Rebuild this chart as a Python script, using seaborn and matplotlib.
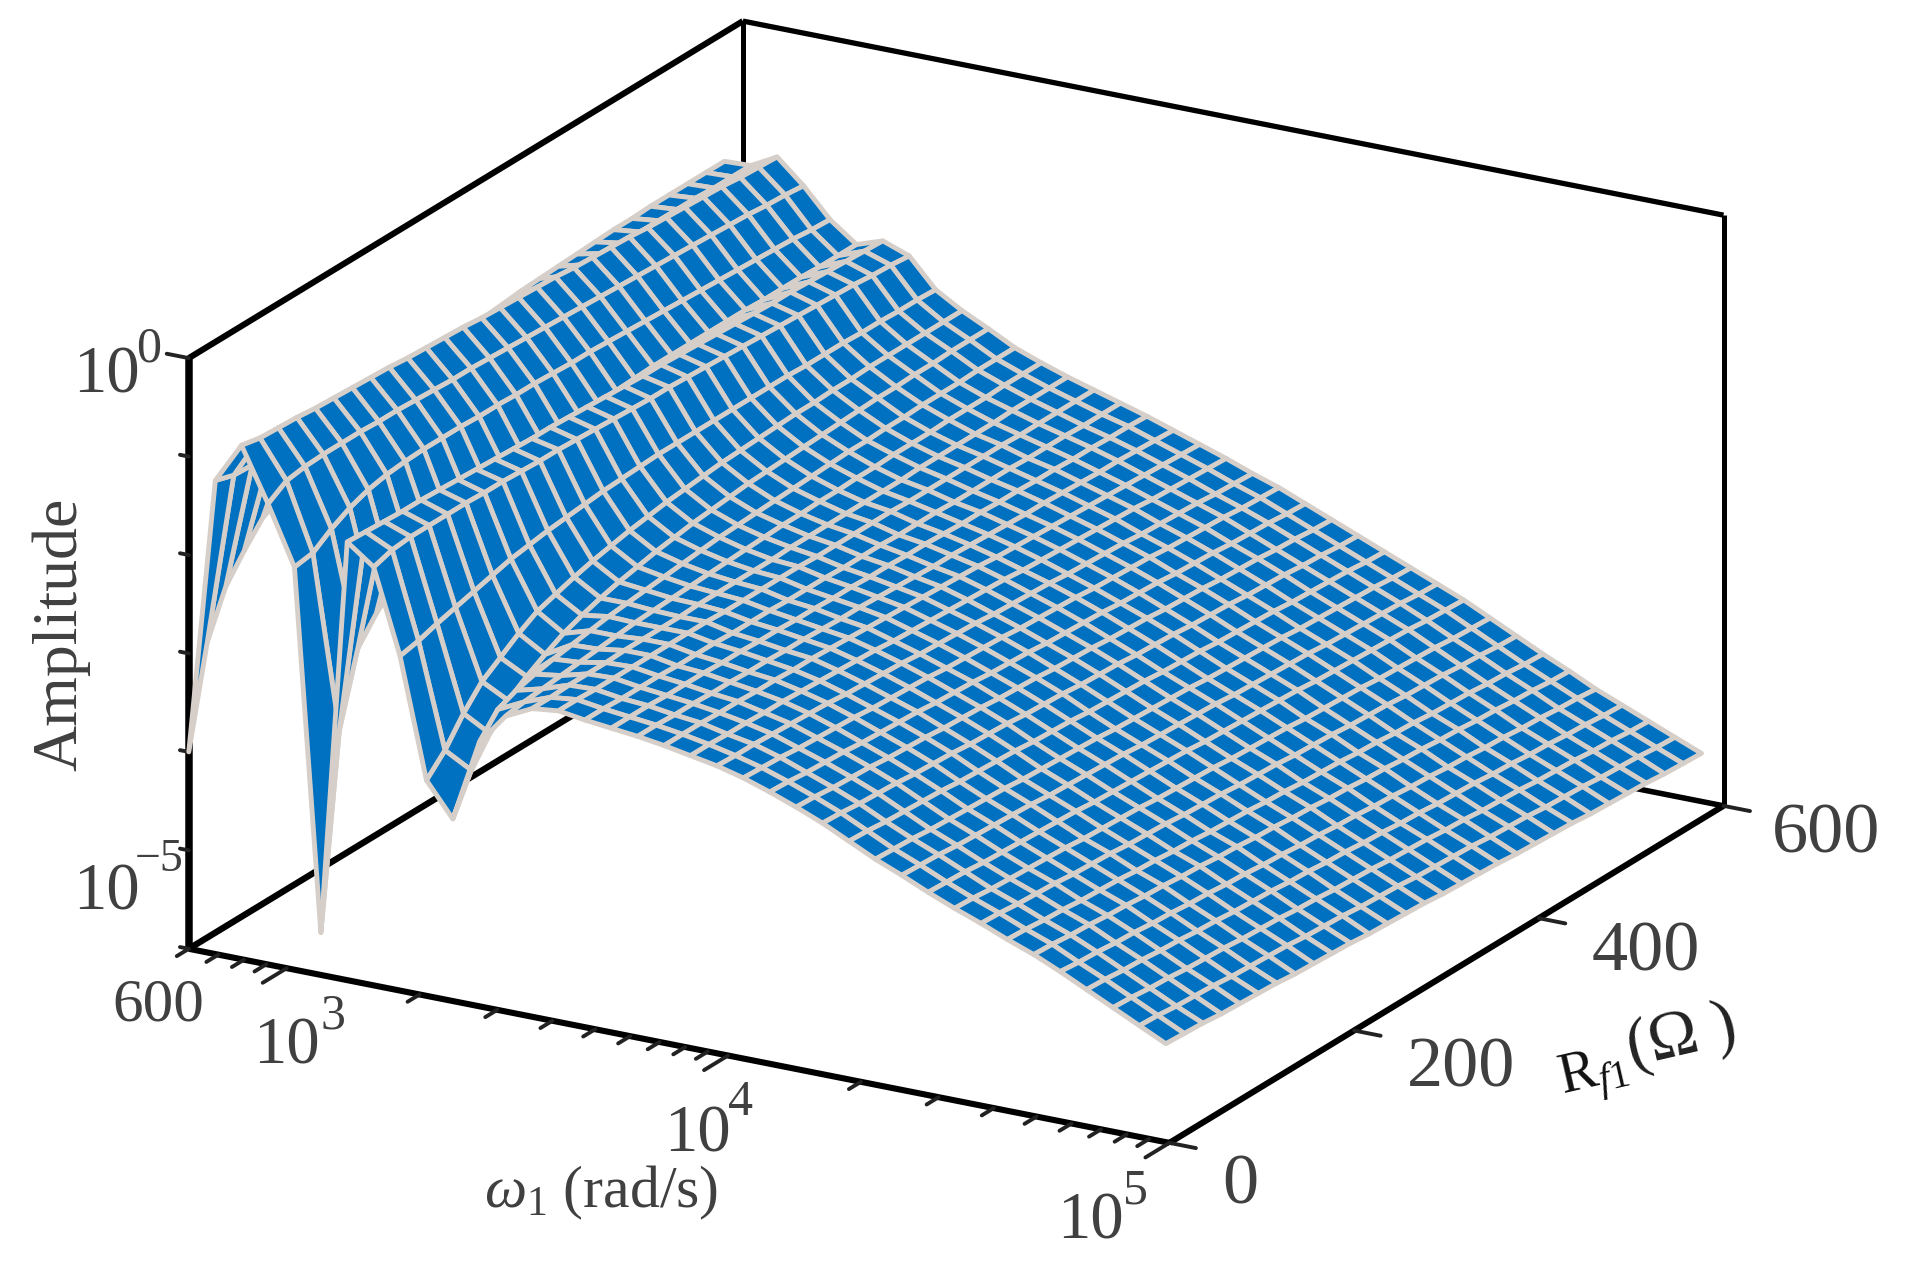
import numpy as np
import matplotlib
matplotlib.use("Agg")
import matplotlib.pyplot as plt
import seaborn as sns
from mpl_toolkits.mplot3d import proj3d

# ---------- data ----------
omega_rad_s = [600, 689, 790, 907, 1041, 1195, 1371, 1574, 1806, 2073, 2379, 2731, 3134, 3597, 4128, 4738,
               5438, 6241, 7163, 8221, 9435, 10829, 12428, 14264, 16371, 18789, 21564, 24749, 28405, 32600,
               37415, 42941, 49284, 56563, 64918, 74506, 85512, 98142]
rf1_ohm = [0, 20, 40, 60, 80, 100, 120, 140, 160, 180, 200, 220, 240, 260, 280, 300, 320, 340, 360, 380,
           400, 420, 440, 460, 480, 500, 520, 540, 560, 580]
# decades above 1e-6: log10(Amplitude) + 6; one row per omega, one column per Rf1
amplitude_decades = [
 [2.00,3.00,3.45,3.70,3.92,4.02,4.12,4.20,4.27,4.33,4.38,4.42,4.46,4.50,4.53,4.56,4.59,4.61,4.63,4.64,4.65,4.66,4.67,4.68,4.68,4.69,4.69,4.69,4.69,4.69],
 [4.81,4.75,4.74,4.74,4.74,4.74,4.74,4.74,4.74,4.74,4.74,4.73,4.73,4.73,4.73,4.73,4.73,4.72,4.72,4.72,4.72,4.72,4.71,4.71,4.71,4.71,4.71,4.70,4.70,4.70],
 [5.22,5.18,5.17,5.16,5.14,5.13,5.12,5.11,5.10,5.08,5.07,5.06,5.05,5.03,5.02,5.01,5.00,4.99,4.97,4.96,4.95,4.94,4.92,4.91,4.90,4.89,4.88,4.86,4.85,4.84],
 [4.68,4.80,4.83,4.84,4.84,4.84,4.83,4.83,4.82,4.81,4.80,4.80,4.79,4.78,4.77,4.76,4.75,4.74,4.73,4.72,4.71,4.70,4.69,4.68,4.67,4.66,4.65,4.63,4.62,4.60],
 [4.09,4.12,4.25,4.35,4.42,4.46,4.48,4.49,4.49,4.49,4.48,4.48,4.47,4.47,4.46,4.45,4.45,4.44,4.43,4.42,4.41,4.40,4.39,4.38,4.37,4.36,4.35,4.34,4.32,4.31],
 [0.43,2.37,3.09,3.33,3.52,3.66,3.76,3.84,3.90,3.95,3.99,4.02,4.05,4.07,4.09,4.10,4.11,4.12,4.13,4.13,4.13,4.13,4.13,4.13,4.12,4.12,4.12,4.11,4.11,4.11],
 [4.45,4.44,4.43,4.42,4.42,4.41,4.40,4.39,4.38,4.37,4.36,4.36,4.35,4.34,4.33,4.32,4.31,4.31,4.30,4.29,4.28,4.27,4.26,4.25,4.25,4.24,4.23,4.22,4.21,4.20],
 [4.25,4.31,4.33,4.33,4.33,4.33,4.32,4.32,4.31,4.30,4.30,4.29,4.28,4.27,4.26,4.25,4.25,4.24,4.23,4.22,4.21,4.20,4.19,4.18,4.17,4.16,4.15,4.13,4.12,4.10],
 [3.40,3.44,3.50,3.55,3.60,3.65,3.70,3.73,3.76,3.78,3.80,3.82,3.83,3.84,3.85,3.85,3.85,3.85,3.85,3.85,3.85,3.85,3.84,3.84,3.84,3.83,3.83,3.82,3.82,3.81],
 [2.19,2.38,2.64,2.85,2.98,3.11,3.22,3.28,3.34,3.39,3.43,3.47,3.50,3.53,3.55,3.57,3.59,3.60,3.61,3.62,3.63,3.63,3.64,3.64,3.65,3.65,3.65,3.65,3.65,3.65],
 [1.85,2.23,2.49,2.71,2.84,2.95,3.05,3.12,3.18,3.23,3.27,3.31,3.34,3.37,3.39,3.41,3.43,3.44,3.45,3.46,3.47,3.48,3.49,3.50,3.50,3.51,3.51,3.52,3.52,3.52],
 [2.68,2.90,2.98,3.03,3.07,3.10,3.13,3.16,3.18,3.20,3.22,3.24,3.26,3.28,3.29,3.30,3.31,3.32,3.33,3.34,3.35,3.35,3.36,3.36,3.37,3.37,3.37,3.38,3.38,3.38],
 [3.00,3.03,3.05,3.07,3.09,3.11,3.13,3.15,3.16,3.17,3.18,3.19,3.20,3.21,3.22,3.23,3.23,3.24,3.24,3.25,3.25,3.26,3.26,3.26,3.27,3.27,3.27,3.28,3.28,3.28],
 [3.13,3.13,3.14,3.14,3.14,3.15,3.15,3.15,3.15,3.16,3.16,3.16,3.16,3.16,3.17,3.17,3.17,3.17,3.17,3.17,3.17,3.18,3.18,3.18,3.18,3.18,3.19,3.19,3.19,3.19],
 [3.16,3.16,3.15,3.15,3.15,3.15,3.15,3.15,3.15,3.14,3.14,3.14,3.14,3.14,3.13,3.13,3.13,3.13,3.13,3.12,3.12,3.12,3.12,3.12,3.12,3.11,3.11,3.11,3.11,3.11],
 [3.12,3.12,3.11,3.11,3.11,3.10,3.10,3.10,3.09,3.09,3.09,3.08,3.08,3.08,3.07,3.07,3.07,3.06,3.06,3.06,3.05,3.05,3.05,3.05,3.04,3.04,3.04,3.03,3.03,3.03],
 [3.09,3.09,3.09,3.08,3.08,3.08,3.07,3.07,3.06,3.06,3.05,3.05,3.04,3.04,3.03,3.03,3.02,3.02,3.01,3.00,3.00,2.99,2.99,2.98,2.98,2.97,2.97,2.96,2.96,2.95],
 [3.06,3.06,3.05,3.05,3.04,3.04,3.03,3.03,3.02,3.02,3.01,3.00,3.00,2.99,2.98,2.97,2.96,2.96,2.95,2.94,2.93,2.92,2.92,2.91,2.90,2.89,2.89,2.88,2.87,2.86],
 [3.02,3.02,3.02,3.01,3.01,3.00,3.00,2.99,2.99,2.98,2.97,2.96,2.95,2.94,2.93,2.92,2.91,2.90,2.88,2.87,2.86,2.85,2.84,2.83,2.82,2.81,2.80,2.79,2.78,2.77],
 [2.97,2.97,2.96,2.96,2.95,2.95,2.94,2.93,2.92,2.91,2.90,2.88,2.87,2.86,2.85,2.84,2.83,2.82,2.80,2.79,2.78,2.77,2.76,2.75,2.74,2.72,2.71,2.70,2.69,2.68],
 [2.92,2.91,2.91,2.90,2.89,2.88,2.87,2.85,2.84,2.83,2.82,2.80,2.79,2.78,2.77,2.75,2.74,2.73,2.72,2.70,2.69,2.68,2.67,2.65,2.64,2.63,2.62,2.60,2.59,2.58],
 [2.85,2.84,2.83,2.81,2.80,2.79,2.78,2.76,2.75,2.74,2.73,2.71,2.70,2.69,2.68,2.66,2.65,2.64,2.63,2.61,2.60,2.59,2.58,2.56,2.55,2.54,2.53,2.51,2.50,2.49],
 [2.76,2.75,2.73,2.72,2.71,2.69,2.68,2.67,2.66,2.64,2.63,2.62,2.60,2.59,2.58,2.56,2.55,2.54,2.53,2.51,2.50,2.49,2.47,2.46,2.45,2.43,2.42,2.41,2.39,2.38],
 [2.66,2.65,2.63,2.62,2.61,2.59,2.58,2.57,2.55,2.54,2.53,2.51,2.50,2.49,2.47,2.46,2.45,2.43,2.42,2.41,2.39,2.38,2.37,2.35,2.34,2.33,2.31,2.30,2.28,2.27],
 [2.55,2.54,2.52,2.51,2.50,2.48,2.47,2.46,2.44,2.43,2.42,2.40,2.39,2.38,2.36,2.35,2.34,2.32,2.31,2.30,2.28,2.27,2.26,2.24,2.23,2.22,2.20,2.19,2.17,2.16],
 [2.42,2.41,2.39,2.38,2.37,2.36,2.34,2.33,2.32,2.31,2.29,2.28,2.27,2.25,2.24,2.23,2.22,2.20,2.19,2.18,2.16,2.15,2.14,2.13,2.11,2.10,2.09,2.08,2.06,2.05],
 [2.29,2.28,2.27,2.25,2.24,2.23,2.22,2.21,2.19,2.18,2.17,2.16,2.15,2.13,2.12,2.11,2.10,2.09,2.07,2.06,2.05,2.04,2.03,2.01,2.00,1.99,1.98,1.97,1.95,1.94],
 [2.18,2.17,2.16,2.14,2.13,2.12,2.11,2.10,2.08,2.07,2.06,2.05,2.04,2.02,2.01,2.00,1.99,1.98,1.96,1.95,1.94,1.93,1.92,1.90,1.89,1.88,1.87,1.86,1.84,1.83],
 [2.06,2.05,2.04,2.02,2.01,2.00,1.99,1.98,1.97,1.95,1.94,1.93,1.92,1.91,1.90,1.88,1.87,1.86,1.85,1.84,1.83,1.81,1.80,1.79,1.78,1.77,1.76,1.74,1.73,1.72],
 [1.95,1.94,1.92,1.91,1.90,1.89,1.88,1.86,1.85,1.84,1.83,1.81,1.80,1.79,1.78,1.76,1.75,1.74,1.73,1.71,1.70,1.69,1.68,1.66,1.65,1.64,1.63,1.61,1.60,1.59],
 [1.85,1.84,1.82,1.81,1.80,1.78,1.77,1.76,1.74,1.73,1.72,1.70,1.69,1.68,1.66,1.65,1.64,1.62,1.61,1.60,1.58,1.57,1.56,1.54,1.53,1.52,1.50,1.49,1.47,1.46],
 [1.74,1.73,1.71,1.70,1.68,1.67,1.66,1.64,1.63,1.61,1.60,1.58,1.57,1.56,1.54,1.53,1.51,1.50,1.49,1.47,1.46,1.44,1.43,1.41,1.40,1.39,1.37,1.36,1.34,1.33],
 [1.64,1.63,1.61,1.60,1.58,1.57,1.55,1.54,1.52,1.51,1.49,1.48,1.46,1.45,1.43,1.42,1.40,1.39,1.37,1.36,1.34,1.33,1.31,1.30,1.28,1.27,1.25,1.24,1.22,1.21],
 [1.52,1.50,1.49,1.47,1.46,1.44,1.43,1.41,1.40,1.38,1.37,1.35,1.34,1.32,1.31,1.29,1.28,1.26,1.25,1.23,1.22,1.20,1.19,1.17,1.16,1.14,1.13,1.11,1.10,1.08],
 [1.39,1.38,1.36,1.35,1.33,1.32,1.30,1.29,1.27,1.26,1.25,1.23,1.22,1.20,1.19,1.17,1.16,1.14,1.13,1.11,1.10,1.09,1.07,1.06,1.04,1.03,1.01,1.00,0.98,0.97],
 [1.26,1.25,1.23,1.22,1.20,1.19,1.18,1.16,1.15,1.14,1.12,1.11,1.09,1.08,1.07,1.05,1.04,1.03,1.01,1.00,0.98,0.97,0.96,0.94,0.93,0.92,0.90,0.89,0.87,0.86],
 [1.13,1.12,1.10,1.09,1.08,1.06,1.05,1.04,1.03,1.01,1.00,0.99,0.97,0.96,0.95,0.93,0.92,0.91,0.90,0.88,0.87,0.86,0.84,0.83,0.82,0.80,0.79,0.78,0.76,0.75],
 [1.00,0.99,0.98,0.96,0.95,0.94,0.93,0.91,0.90,0.89,0.88,0.86,0.85,0.84,0.83,0.81,0.80,0.79,0.78,0.76,0.75,0.74,0.73,0.71,0.70,0.69,0.68,0.66,0.65,0.64],
]
omega_limits = [600, 100000]
rf1_limits = [0, 600]
log_amp_limits = [-6, 0]
omega_major = [1000, 10000, 100000]
omega_minor = [600, 700, 800, 900, 2000, 3000, 4000, 5000, 6000, 7000, 8000, 9000,
               20000, 30000, 40000, 50000, 60000, 70000, 80000, 90000]
rf1_ticks = [0, 200, 400, 600]
log_amp_major = [0]
log_amp_minor = [-1, -2, -3, -4, -5, -6]

# ---------- style ----------
sns.set_theme(style="white")
plt.rcParams["font.family"] = ["Liberation Serif", "DejaVu Sans"]
plt.rcParams["mathtext.fontset"] = "custom"
plt.rcParams["mathtext.rm"] = "Liberation Serif"
plt.rcParams["mathtext.it"] = "Liberation Serif:italic"
plt.rcParams["mathtext.bf"] = "Liberation Serif:bold"

BLUE = "#0070C0"
EDGE = "#D6CFC9"
TEXT = "#404040"
W, H = 1910, 1263
fig = plt.figure(figsize=(W / 100, H / 100), dpi=100, facecolor="white")
ax = fig.add_axes([0, 0, 1, 1], projection="3d", facecolor="none")
ax.set_proj_type("ortho")
ax.view_init(elev=20.3, azim=-60.3)
ax.set_box_aspect((926.7, 918, 517))
ax.set_axis_off()
ax.computed_zorder = False

lx = np.log10(omega_limits)
ly = rf1_limits
lz = log_amp_limits
ax.set_xlim(*lx)
ax.set_ylim(*ly)
ax.set_zlim(*lz)

# ---------- surface ----------
Xg, Yg = np.meshgrid(np.log10(omega_rad_s), rf1_ohm, indexing="ij")
Zg = np.array(amplitude_decades) - 6
ax.plot_surface(Xg, Yg, Zg, rstride=1, cstride=1, color=BLUE, edgecolor=EDGE,
                linewidth=3.5, shade=False, antialiased=True, zorder=3)

# ---------- box ----------
def seg(p, q, lw, color="black", cap="butt"):
    ax.plot([p[0], q[0]], [p[1], q[1]], [p[2], q[2]], color=color, lw=lw,
            solid_capstyle=cap, zorder=2)

x0, x1 = lx
y0, y1 = ly
z0, z1 = lz
seg((x0, y0, z0), (x1, y0, z0), 4.4)
seg((x1, y0, z0), (x1, y1, z0), 4.4)
seg((x1, y1, z0), (x0, y1, z0), 4.0)
seg((x0, y1, z0), (x0, y0, z0), 4.6)
seg((x0, y0, z0), (x0, y0, z1), 5.4)
seg((x0, y1, z0), (x0, y1, z1), 3.6)
seg((x1, y1, z0), (x1, y1, z1), 3.6)
seg((x0, y0, z1), (x0, y1, z1), 4.4)
seg((x0, y1, z1), (x1, y1, z1), 3.8)

# ---------- ticks ----------
TICK = "#222222"
for v in omega_major:
    seg((np.log10(v), y0, z0), (np.log10(v), y0 - 26, z0), 2.8, TICK, "round")
for v in omega_minor:
    seg((np.log10(v), y0, z0), (np.log10(v), y0 - 13, z0), 2.8, TICK, "round")
for v in rf1_ticks:
    seg((x1, v, z0), (x1 + 0.06, v, z0), 2.8, TICK, "round")
for v in log_amp_major:
    seg((x0, y0, v), (x0 - 0.05, y0, v), 2.8, TICK, "round")
for v in log_amp_minor:
    seg((x0, y0, v), (x0 - 0.02, y0, v), 2.8, TICK, "round")

# ---------- place the projected box on the reference frame ----------
def corner_px(x, y, z):
    xp, yp, _ = proj3d.proj_transform(x, y, z, ax.get_proj())
    return ax.transData.transform((xp, yp))

target_A = np.array([188.8, H - 948.8])
target_C = np.array([1723.5, H - 805.2])
for _ in range(3):
    fig.canvas.draw()
    A = corner_px(x0, y0, z0)
    C = corner_px(x1, y1, z0)
    s = (target_C[0] - target_A[0]) / (C[0] - A[0])
    bb = ax.get_position()
    size = bb.width * W * s
    cx = bb.x0 * W + bb.width * W / 2
    cy = bb.y0 * H + bb.height * H / 2
    Arel = (A - np.array([cx, cy])) * s
    ncx, ncy = target_A - Arel
    ax.set_position([(ncx - size / 2) / W, (ncy - size / 2) / H, size / W, size / H])

# ---------- text ----------
def label(px, py, s, size, color=TEXT, rotation=0, **kw):
    fig.text(px / W, 1 - py / H, s, fontsize=size, color=color, rotation=rotation,
             ha=kw.pop("ha", "left"), va=kw.pop("va", "baseline"),
             rotation_mode="anchor", **kw)

S = 1910 / 1568
BIG, SUP, NUM = 48, 36, 52
label(60 * S, 322 * S, "10", BIG)
label(112 * S, 297 * S, "0", SUP)
label(60 * S, 747 * S, "10", BIG)
label(111 * S, 715 * S, "−5", 33)
label(92 * S, 838 * S, "600", 44)
label(208 * S, 873 * S, "10", BIG)
label(263 * S, 844 * S, "3", SUP)
label(545 * S, 945 * S, "10", BIG)
label(598 * S, 915 * S, "4", SUP)
label(868 * S, 1017 * S, "10", BIG)
label(922 * S, 988 * S, "5", SUP)
label(1003 * S, 988 * S, "0", NUM)
label(1155 * S, 892 * S, "200", NUM)
label(1307 * S, 797 * S, "400", NUM)
label(1455 * S, 700 * S, "600", NUM)
label(63 * S, 521 * S, "Amplitude", 46, rotation=90, ha="center")
label(397 * S, 991 * S, r"$\omega_{\mathrm{1}}\ \mathit{(}\mathrm{rad/s}\mathit{)}$", 43)
label(1563, 1095, r"$\mathrm{R}_{\mathit{f}\mathrm{1}}$", 41, color="#111111", rotation=13)
label(1632, 1066, "(Ω )", 48, color="#222222", rotation=13)

fig.savefig("out.png", dpi=100, facecolor="white")
